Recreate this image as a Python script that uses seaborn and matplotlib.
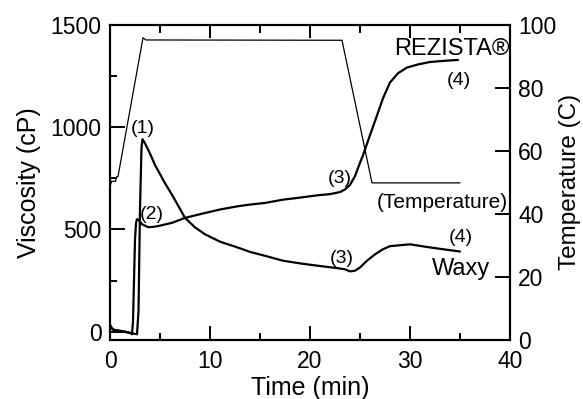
import numpy as np
import pandas as pd
import matplotlib
matplotlib.use("Agg")
import matplotlib.pyplot as plt
import seaborn as sns

# ---- data ----
waxy_t = [0, 0.3, 1.0, 2.0, 2.7, 2.85, 3.0, 3.15, 3.25, 3.5, 4.0, 4.5, 5.0, 5.5, 6.2, 7.0,
          7.5, 8.5, 9.5, 11, 12.8, 14, 15.5, 17.3, 19, 20.7, 22.7, 23.5, 24.0, 24.5, 25,
          25.7, 26.5, 27.3, 28, 29.3, 30, 31.7, 33, 35]
waxy_v = [30, 10, 5, -5, -12, 100, 600, 900, 940, 920, 870, 814, 770, 725, 669, 600,
          556, 510, 476, 440, 411, 390, 371, 347, 334, 323, 311, 305, 295, 298, 314,
          347, 378, 403, 418, 424, 427, 414, 405, 392]

rez_t = [0, 0.2, 0.5, 1.5, 2.0, 2.2, 2.3, 2.4, 2.5, 2.6, 2.7, 2.9, 3.2, 3.8, 4.3, 4.8,
         6.2, 7.5, 9.5, 11, 12.8, 14, 15.5, 17.3, 19, 20.7, 22, 23, 23.5, 24, 24.5, 25,
         25.3, 26, 26.7, 27.3, 28, 28.8, 29.7, 30.8, 32, 33.5, 34.8]
rez_v = [35, 15, 8, 0, -5, -12, 50, 250, 450, 530, 550, 545, 525, 511, 512, 516,
         532, 556, 580, 597, 613, 621, 629, 645, 655, 666, 672, 682, 695, 717, 760, 825,
         862, 960, 1056, 1140, 1217, 1262, 1290, 1305, 1317, 1323, 1327]

temp_t = [0, 0.15, 0.55, 0.65, 0.8, 3.3, 3.6, 23.2, 26.2, 35]
temp_c = [48.5, 50.3, 50.3, 51.7, 51.8, 95.8, 95.1, 95.0, 49.8, 49.8]

x_ticks = [0, 10, 20, 30, 40]
x_minor = [5, 15, 25, 35]
visc_ticks = [0, 500, 1000, 1500]
visc_minor = [250, 750, 1250]
temp_ticks = [0, 20, 40, 60, 80, 100]

# ---- styling ----
sns.set_style("white")
plt.rcParams['font.family'] = ['Liberation Sans', 'DejaVu Sans']
plt.rcParams.update({
    'axes.linewidth': 1.5, 'axes.edgecolor': 'black', 'text.color': 'black',
    'axes.labelcolor': 'black', 'xtick.color': 'black', 'ytick.color': 'black',
})

fig = plt.figure(figsize=(5.83, 3.99), dpi=100)
ax = fig.add_axes([110/583, 1-340/399, 400/583, (340-24.5)/399])

df_w = pd.DataFrame({"t": waxy_t, "v": waxy_v})
df_r = pd.DataFrame({"t": rez_t, "v": rez_v})
df_T = pd.DataFrame({"t": temp_t, "c": temp_c})

sns.lineplot(data=df_w, x="t", y="v", ax=ax, color="black", lw=1.6, sort=False)
sns.lineplot(data=df_r, x="t", y="v", ax=ax, color="black", lw=1.6, sort=False)

ax2 = ax.twinx()
sns.lineplot(data=df_T, x="t", y="c", ax=ax2, color="black", lw=0.9, sort=False)

ax.set_xlim(0, 40)
ax.set_ylim(-40, 1500)
ax2.set_ylim(0, 100)
ax.set_xticks(x_ticks)
ax.set_yticks(visc_ticks)
ax2.set_yticks(temp_ticks)

# tick labels only; tick marks drawn as inward segments below
ax.tick_params(axis='both', which='both', direction='in', length=0, labelsize=16.5)
ax.tick_params(axis='x', pad=7)
ax.tick_params(axis='y', pad=6)
ax2.tick_params(axis='y', direction='in', length=0, labelsize=16.5, pad=6)

tk = dict(color='black', lw=1.4, clip_on=False, solid_capstyle='butt')
xt = ax.get_xaxis_transform()
yt = ax.get_yaxis_transform()
yt2 = ax2.get_yaxis_transform()
for v in x_ticks:
    ax.plot([v, v], [0, 0.044], transform=xt, **tk)
    ax.plot([v, v], [1, 1 - 0.044], transform=xt, **tk)
for v in x_minor:
    ax.plot([v, v], [0, 0.022], transform=xt, **tk)
    ax.plot([v, v], [1, 1 - 0.028], transform=xt, **tk)
for v in visc_ticks:
    ax.plot([0, 0.037], [v, v], transform=yt, **tk)
for v in visc_minor:
    ax.plot([0, 0.018], [v, v], transform=yt, **tk)
for v in temp_ticks:
    ax2.plot([1, 1 - 0.037], [v, v], transform=yt2, **tk)

for s in list(ax.spines.values()) + list(ax2.spines.values()):
    s.set_linewidth(1.5)
    s.set_color('black')

ax.set_xlabel("Time (min)", fontsize=18, labelpad=2)
ax.set_ylabel("Viscosity (cP)", fontsize=18, labelpad=7)
ax2.set_ylabel("Temperature (C)", fontsize=17.5, labelpad=2)

# annotations
kw = dict(ha='center', va='center', fontsize=14)
ax.text(3.27, 991, "(1)", **kw)
ax.text(4.17, 572, "(2)", **kw)
ax.text(23.0, 750, "(3)", **kw)
ax.text(23.2, 356, "(3)", **kw)
ax.text(34.9, 1229, "(4)", **kw)
ax.text(35.05, 460, "(4)", **kw)
ax.text(40.0, 1381, "REZISTA®", ha='right', va='center', fontsize=17)
ax.text(38.0, 308, "Waxy", ha='right', va='center', fontsize=17)
ax.text(33.2, 630, "(Temperature)", ha='center', va='center', fontsize=15)

fig.savefig("out.png", dpi=100)
